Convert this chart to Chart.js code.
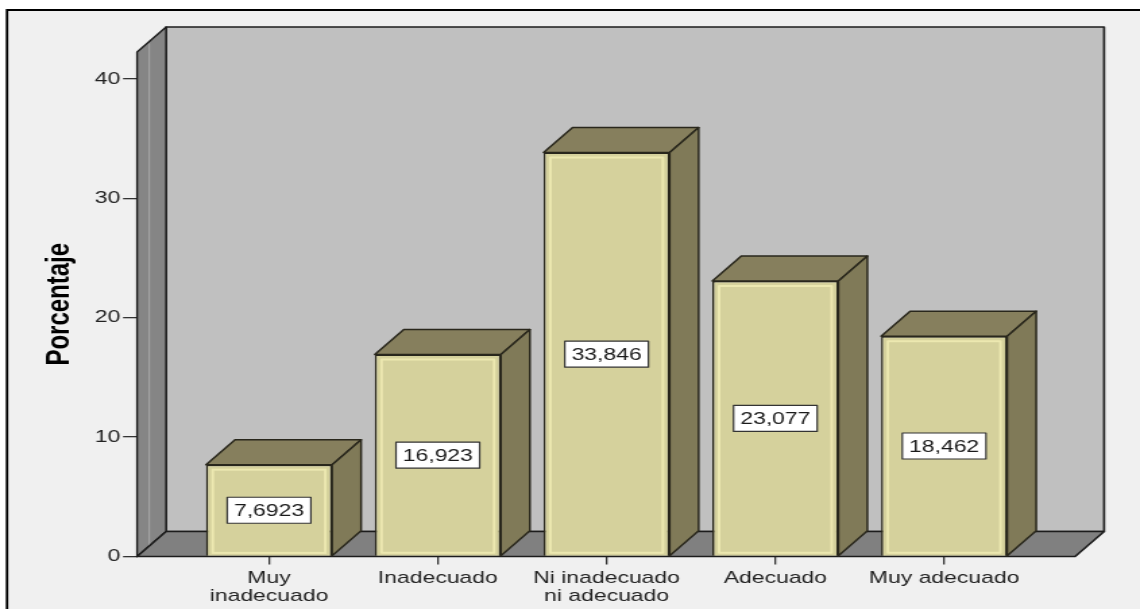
<!DOCTYPE html>
<html>
<head>
<meta charset="utf-8">
<script src="https://cdn.jsdelivr.net/npm/chart.js@4/dist/chart.umd.min.js"></script>
<style>
  html, body { margin: 0; padding: 0; background: #fff; overflow: hidden; }
  /* the chart is laid out narrow and stretched sideways, like the exported figure */
  #wrap { width: 845px; height: 609px; transform: scaleX(1.3491); transform-origin: 0 0; }
</style>
</head>
<body>
<div id="wrap"><canvas id="grafico" width="845" height="609"></canvas></div>
<script>
// Categories, percentages and y tick values
const categorias = [['Muy', 'inadecuado'], 'Inadecuado', ['Ni inadecuado', 'ni adecuado'], 'Adecuado', 'Muy adecuado'];
const porcentajes = [7.6923, 16.923, 33.846, 23.077, 18.462];
const marcasY = [0, 10, 20, 30, 40];

// depth of the fake 3D offset (canvas px)
const PROF_X = 21.5;
const PROF_Y = -25;

const FUENTE = '"Liberation Sans", Arial, sans-serif';

function poligono(ctx, puntos, relleno, trazo, grosor) {
    ctx.beginPath();
    ctx.moveTo(puntos[0][0], puntos[0][1]);
    for (let i = 1; i < puntos.length; i++) ctx.lineTo(puntos[i][0], puntos[i][1]);
    ctx.closePath();
    ctx.fillStyle = relleno;
    ctx.fill();
    ctx.strokeStyle = trazo;
    ctx.lineWidth = grosor;
    ctx.lineJoin = 'round';
    ctx.stroke();
}

// Page background and frame
const fondo = {
    id: 'fondo',
    beforeDraw(chart) {
        const { ctx, width, height } = chart;
        ctx.save();
        ctx.fillStyle = '#ffffff';
        ctx.fillRect(0, 0, width, height);
        ctx.fillStyle = '#f0f0f0';
        ctx.fillRect(5.2, 10, width, height);
        ctx.strokeStyle = '#000';
        ctx.lineWidth = 1.8;
        ctx.beginPath();
        ctx.moveTo(5.2, height + 5);
        ctx.lineTo(5.2, 10);
        ctx.lineTo(width + 5, 10);
        ctx.stroke();
        ctx.restore();
    }
};

// Back wall, left wall and floor of the 3D box
const paredes = {
    id: 'paredes',
    beforeDatasetsDraw(chart) {
        const { ctx, chartArea: { left: L, right: R, top: T, bottom: B } } = chart;
        const dx = PROF_X, dy = PROF_Y;
        ctx.save();
        poligono(ctx, [[L + dx, T + dy], [R + dx, T + dy], [R + dx, B + dy], [L + dx, B + dy]], '#c0c0c0', '#1c1c1c', 1.6);
        poligono(ctx, [[L, T], [L + dx, T + dy], [L + dx, B + dy], [L, B]], '#858585', '#1c1c1c', 1.4);
        // light stripe on the left wall
        ctx.strokeStyle = 'rgba(170,170,170,0.8)';
        ctx.lineWidth = 1.2;
        ctx.beginPath();
        ctx.moveTo(L + 9, T + dy * 9 / dx + 2);
        ctx.lineTo(L + 9, B + dy * 9 / dx);
        ctx.stroke();
        poligono(ctx, [[L, B], [L + dx, B + dy], [R + dx, B + dy], [R, B]], '#808080', '#1c1c1c', 1.6);
        ctx.restore();
    }
};

// Top and side faces of each bar plus the boxed value labels
const barras3d = {
    id: 'barras3d',
    afterDatasetsDraw(chart) {
        const { ctx } = chart;
        const dx = PROF_X, dy = PROF_Y;
        const meta = chart.getDatasetMeta(0);
        ctx.save();
        meta.data.forEach((barra, i) => {
            const { x, y, base, width } = barra.getProps(['x', 'y', 'base', 'width'], true);
            const x0 = x - width / 2;
            const x1 = x + width / 2;

            // soft highlight inside the front face
            ctx.strokeStyle = 'rgba(238,234,178,0.9)';
            ctx.lineWidth = 2;
            ctx.strokeRect(x0 + 5, y + 5, width - 10, base - y - 8);

            poligono(ctx, [[x0, y], [x0 + dx, y + dy], [x1 + dx, y + dy], [x1, y]], '#867f5d', '#29271c', 1.5);
            poligono(ctx, [[x1, y], [x1 + dx, y + dy], [x1 + dx, base + dy], [x1, base]], '#807a58', '#29271c', 1.5);

            // value label
            const texto = porcentajes[i].toString().replace('.', ',');
            ctx.font = '17px ' + FUENTE;
            const ancho = ctx.measureText(texto).width + 10;
            const alto = 26;
            const cy = (y + base) / 2;
            ctx.fillStyle = '#ffffff';
            ctx.fillRect(x - ancho / 2, cy - alto / 2, ancho, alto);
            ctx.strokeStyle = '#333';
            ctx.lineWidth = 1.2;
            ctx.strokeRect(x - ancho / 2, cy - alto / 2, ancho, alto);
            ctx.fillStyle = '#1a1a1a';
            ctx.textAlign = 'center';
            ctx.textBaseline = 'middle';
            ctx.fillText(texto, x, cy + 1);
        });
        ctx.restore();
    }
};

new Chart(document.getElementById('grafico'), {
    type: 'bar',
    data: {
        datasets: [{
            data: porcentajes.map((v, i) => ({ x: i, y: v })),
            backgroundColor: '#d5d19c',
            borderColor: '#29271c',
            borderWidth: 1.5,
            barPercentage: 1,
            categoryPercentage: 0.747
        }]
    },
    options: {
        responsive: false,
        animation: false,
        layout: { padding: { left: 0, top: 52, right: 48.1, bottom: 0 } },
        plugins: {
            legend: { display: false },
            tooltip: { enabled: false }
        },
        scales: {
            x: {
                type: 'linear',
                offset: false,
                min: -0.782,
                max: 4.776,
                afterBuildTicks: axis => { axis.ticks = categorias.map((_, i) => ({ value: i })); },
                afterFit: axis => { axis.height = 52.5; },
                ticks: {
                    callback: v => categorias[v],
                    color: '#222',
                    font: { family: FUENTE, size: 17, lineHeight: 1.1 },
                    padding: 4,
                    maxRotation: 0,
                    autoSkip: false
                },
                grid: { offset: false, drawOnChartArea: false, tickLength: 8, color: '#333', lineWidth: 1.3 },
                border: { display: false }
            },
            y: {
                min: 0,
                max: 42.27,
                afterBuildTicks: axis => { axis.ticks = marcasY.map(v => ({ value: v })); },
                afterFit: axis => { axis.width = 101.6; },
                ticks: {
                    color: '#222',
                    font: { family: FUENTE, size: 17 },
                    padding: 2
                },
                grid: { drawOnChartArea: false, tickLength: 10.4, color: '#333', lineWidth: 1.3 },
                border: { display: false },
                title: {
                    display: true,
                    text: 'Porcentaje',
                    color: '#000',
                    font: { family: FUENTE, size: 24, weight: 'bold' },
                    padding: { top: 29.6, bottom: 0 }
                }
            }
        }
    },
    plugins: [fondo, paredes, barras3d]
});
</script>
</body>
</html>
